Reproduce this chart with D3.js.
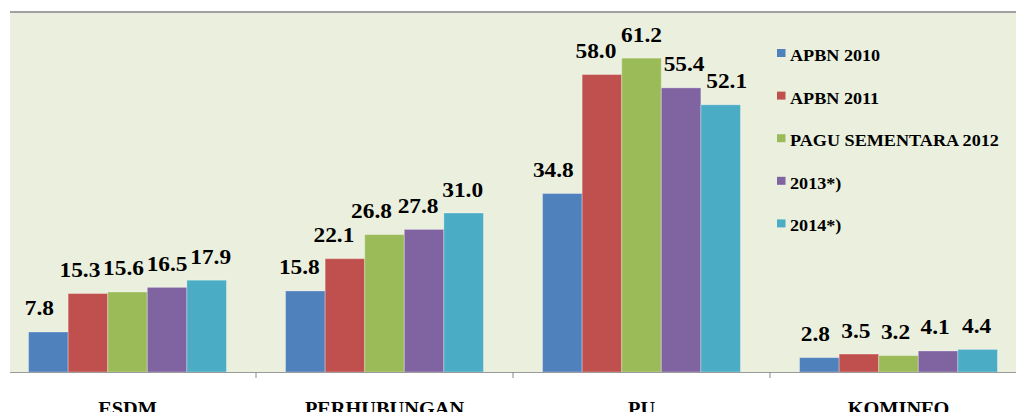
<!DOCTYPE html>
<html>
<head>
<meta charset="utf-8">
<script src="https://cdn.jsdelivr.net/npm/d3@7"></script>
<style>
  html, body { margin: 0; padding: 0; background: #ffffff; overflow: hidden; }
  svg { display: block; }
</style>
</head>
<body>
<svg id="chart" width="1016" height="412"></svg>
<script>
// Budget allocation per ministry (trillion rupiah)
const categories = ["ESDM", "PERHUBUNGAN", "PU", "KOMINFO"];
const seriesNames = ["APBN 2010", "APBN 2011", "PAGU SEMENTARA 2012", "2013*)", "2014*)"];
const apbn2010 = [7.8, 15.8, 34.8, 2.8];
const apbn2011 = [15.3, 22.1, 58.0, 3.5];
const pagu2012 = [15.6, 26.8, 61.2, 3.2];
const est2013 = [16.5, 27.8, 55.4, 4.1];
const est2014 = [17.9, 31.0, 52.1, 4.4];
const yDomainMax = 70;

const seriesValues = [apbn2010, apbn2011, pagu2012, est2013, est2014];
const colors = ["#4f81bd", "#c0504d", "#9bbb59", "#8064a2", "#4bacc6"];

// small horizontal nudges for the value labels, per category / series
const labelNudge = [
  [-9, -8, -4, 0, 4],
  [-6, -11, -13, -6, -1],
  [-9, -6, 0, 3, 6],
  [-4, -3, -3, -3, -1]
];

const W = 1016, H = 412;
const plot = { left: 10, top: 13, bottom: 372, right: W };
const FONT = "Liberation Serif";

const svg = d3.select("#chart")
  .attr("font-family", FONT)
  .attr("font-weight", "bold");

// plot area
svg.append("rect")
  .attr("x", plot.left).attr("y", plot.top)
  .attr("width", plot.right - plot.left).attr("height", plot.bottom - plot.top)
  .attr("fill", "#ebf0de");
svg.append("line")
  .attr("x1", plot.left).attr("x2", plot.right)
  .attr("y1", 12).attr("y2", 12)
  .attr("stroke", "#a0a0a0").attr("stroke-width", 2);

const x0 = d3.scaleBand()
  .domain(categories)
  .range([-1, 1027])
  .paddingInner(0.23)
  .paddingOuter(0.115);

const x1 = d3.scaleBand()
  .domain(d3.range(seriesNames.length))
  .range([0, x0.bandwidth()]);

const y = d3.scaleLinear()
  .domain([0, yDomainMax])
  .range([plot.bottom, plot.top]);

const rows = [];
categories.forEach((c, ci) => {
  seriesValues.forEach((vals, si) => {
    rows.push({ cat: c, ci, si, v: vals[ci] });
  });
});

// bars
svg.append("g").selectAll("rect")
  .data(rows)
  .join("rect")
  .attr("x", d => x0(d.cat) + x1(d.si))
  .attr("y", d => y(d.v))
  .attr("width", x1.bandwidth())
  .attr("height", d => y(0) - y(d.v))
  .attr("fill", d => colors[d.si])
  .attr("stroke", "rgba(255,255,255,0.3)")
  .attr("stroke-width", 1);

// value labels
svg.append("g").selectAll("text")
  .data(rows)
  .join("text")
  .attr("font-family", FONT)
  .attr("font-weight", "bold")
  .attr("fill", "#000")
  .attr("text-anchor", "middle")
  .attr("font-size", 20.5)
  .attr("transform", d => {
    const cx = x0(d.cat) + x1(d.si) + x1.bandwidth() / 2 + labelNudge[d.ci][d.si];
    return `translate(${cx},${y(d.v) - 16.5}) scale(1.14,1)`;
  })
  .text(d => d.v.toFixed(1));

// category axis
const axis = svg.append("g");
axis.append("line")
  .attr("x1", plot.left).attr("x2", plot.right)
  .attr("y1", plot.bottom + 0.5).attr("y2", plot.bottom + 0.5)
  .attr("stroke", "#9a9a9a").attr("stroke-width", 1.2);

const step = x0.step();
const boundaries = d3.range(1, categories.length).map(i => x0.range()[0] + i * step);
axis.selectAll("line.tick")
  .data(boundaries)
  .join("line")
  .attr("class", "tick")
  .attr("x1", d => d).attr("x2", d => d)
  .attr("y1", plot.bottom).attr("y2", plot.bottom + 6)
  .attr("stroke", "#8a8a8a").attr("stroke-width", 1);

axis.selectAll("text")
  .data(categories)
  .join("text")
  .attr("font-family", FONT)
  .attr("font-weight", "bold")
  .attr("fill", "#000")
  .attr("text-anchor", "middle")
  .attr("font-size", 18)
  .attr("transform", d => `translate(${x0(d) + x0.bandwidth() / 2},${414.5}) scale(1.13,1)`)
  .text(d => d);

// legend
const legend = svg.append("g").attr("transform", "translate(777,61)");
const legendRow = 42.6;
const item = legend.selectAll("g")
  .data(seriesNames)
  .join("g")
  .attr("transform", (d, i) => `translate(0,${i * legendRow})`);
item.append("rect")
  .attr("x", 0).attr("y", -12)
  .attr("width", 8.5).attr("height", 8)
  .attr("fill", (d, i) => colors[i]);
item.append("text")
  .attr("font-family", FONT)
  .attr("font-weight", "bold")
  .attr("fill", "#000")
  .attr("font-size", 16.5)
  .attr("transform", "translate(13,0) scale(1.1,1)")
  .text(d => d);
</script>
</body>
</html>
